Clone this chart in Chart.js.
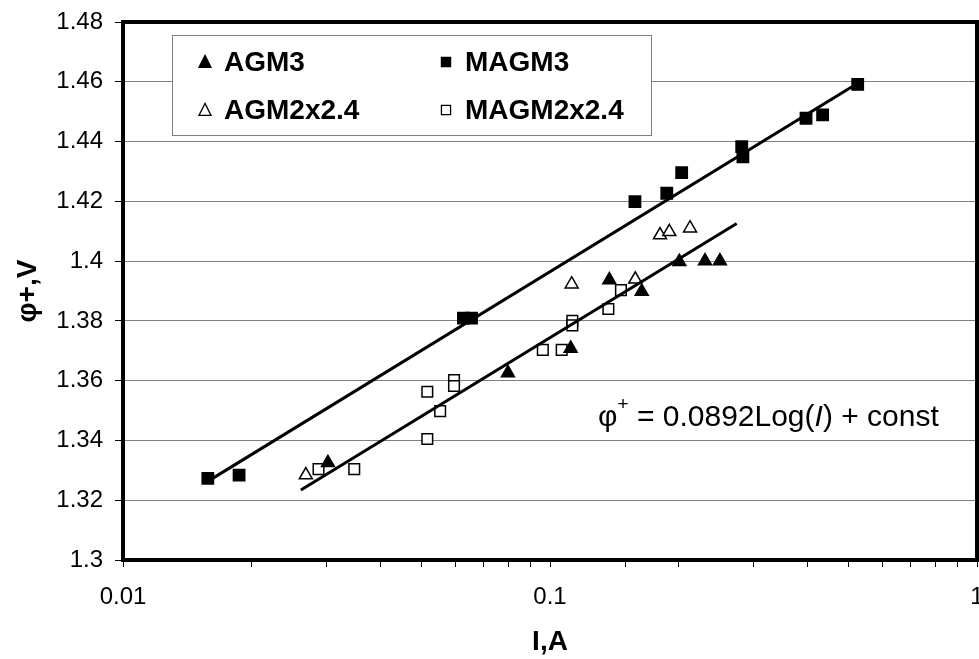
<!DOCTYPE html>
<html>
<head>
<meta charset="utf-8">
<script src="https://cdn.jsdelivr.net/npm/chart.js@4.4.1/dist/chart.umd.min.js"></script>
<style>
  html, body { margin: 0; background: #fff; }
  canvas { display: block; }
</style>
</head>
<body>
<canvas id="chart" width="979" height="659"></canvas>
<script>
// Positive electrode potential vs. current, per cell type
const agm3Current = [0.0302, 0.0797, 0.1118, 0.1377, 0.164, 0.2008, 0.2307, 0.25];
const agm3Phi = [1.3325, 1.3626, 1.3708, 1.3937, 1.3898, 1.3998, 1.4000, 1.4000];

const magm3Current = [0.0158, 0.0187, 0.0627, 0.0655, 0.1581, 0.1877, 0.2034, 0.2812, 0.283, 0.3977, 0.435, 0.5255];
const magm3Phi = [1.3273, 1.3284, 1.3809, 1.3809, 1.4199, 1.4227, 1.4296, 1.4383, 1.4349, 1.4478, 1.4489, 1.4591];

const agm2Current = [0.0268, 0.1124, 0.1584, 0.181, 0.1903, 0.2128];
const agm2Phi = [1.3284, 1.3923, 1.3939, 1.4087, 1.4098, 1.4110];

const magm2Current = [0.0287, 0.0348, 0.0516, 0.0516, 0.0553, 0.0596, 0.0596, 0.0962, 0.1065, 0.1128, 0.1128, 0.137, 0.1466];
const magm2Phi = [1.3304, 1.3304, 1.3405, 1.3563, 1.3498, 1.3602, 1.3582, 1.3703, 1.3703, 1.3800, 1.3785, 1.3840, 1.3903];

// log fit lines, start and end points
const upperFitCurrent = [0.016, 0.5255];
const upperFitPhi = [1.3268, 1.4595];
const lowerFitCurrent = [0.0261, 0.2737];
const lowerFitPhi = [1.3234, 1.4126];

const xTickLabels = ['0.01', '0.1', '1'];
const yMin = 1.3, yMax = 1.48, yStep = 0.02;
const fitNote = ['\u03c6', '+', ' = 0.0892Log(', 'I', ') + const'];

const FONT = 'Arial, "Liberation Sans", Helvetica, sans-serif';

function toPoints(xs, ys) {
    return xs.map((x, i) => ({ x: x, y: ys[i] }));
}

function markerSet(label, xs, ys, style, filled, radius) {
    return {
        label: label,
        data: toPoints(xs, ys),
        showLine: false,
        pointStyle: style,
        pointRadius: radius,
        pointBorderWidth: 1.5,
        pointBorderColor: '#000',
        pointBackgroundColor: filled ? '#000' : '#fff',
        filled: filled,
        order: 1
    };
}

function fitLine(xs, ys) {
    return {
        data: toPoints(xs, ys),
        showLine: true,
        borderColor: '#000',
        borderWidth: 3,
        pointRadius: 0,
        order: 0
    };
}

function drawMarker(ctx, style, filled, x, y, size) {
    ctx.beginPath();
    if (style === 'triangle') {
        ctx.moveTo(x, y - size * 0.55);
        ctx.lineTo(x + size / 2, y + size * 0.45);
        ctx.lineTo(x - size / 2, y + size * 0.45);
        ctx.closePath();
    } else {
        const h = size * 0.38;
        ctx.rect(x - h, y - h, h * 2, h * 2);
    }
    ctx.fillStyle = filled ? '#000' : '#fff';
    ctx.fill();
    ctx.lineWidth = 1.3;
    ctx.strokeStyle = '#000';
    ctx.stroke();
}

// thick plot frame, then the boxed two-column legend
const overlayPlugin = {
    id: 'plotOverlay',
    afterDatasetsDraw(chart) {
        const a = chart.chartArea;
        const ctx = chart.ctx;
        ctx.save();
        ctx.strokeStyle = '#000';
        ctx.lineWidth = 4;
        ctx.strokeRect(a.left, a.top, a.right - a.left, a.bottom - a.top);

        const left = a.left + 49, top = a.top + 13, w = 479, h = 100;
        ctx.fillStyle = '#fff';
        ctx.fillRect(left, top, w, h);
        ctx.strokeStyle = '#808080';
        ctx.lineWidth = 1;
        ctx.strokeRect(left + 0.5, top + 0.5, w, h);

        const entries = chart.data.datasets.filter(d => d.label);
        entries.forEach((d, i) => {
            const col = i % 2, row = Math.floor(i / 2);
            const mx = left + 33 + col * 241;
            const my = top + 27 + row * 48;
            drawMarker(ctx, d.pointStyle, d.filled, mx, my, 12);
            ctx.fillStyle = '#000';
            ctx.font = 'bold 28px ' + FONT;
            ctx.textBaseline = 'middle';
            ctx.textAlign = 'left';
            ctx.fillText(d.label, mx + 19, my + 1);
        });
        ctx.restore();
    }
};

// fit equation written over the plot
const notePlugin = {
    id: 'fitNote',
    afterDraw(chart) {
        const a = chart.chartArea;
        const ctx = chart.ctx;
        let x = a.left + 475;
        const base = a.top + 404;
        ctx.save();
        ctx.fillStyle = '#000';
        ctx.textBaseline = 'alphabetic';
        ctx.textAlign = 'left';
        fitNote.forEach((part, i) => {
            let y = base;
            if (i === 1) {
                ctx.font = '19px ' + FONT;
                y = base - 16;
            } else if (i === 3) {
                ctx.font = 'italic 30px ' + FONT;
            } else {
                ctx.font = '30px ' + FONT;
            }
            ctx.fillText(part, x, y);
            x += ctx.measureText(part).width;
        });
        ctx.restore();
    }
};

function isDecade(v) {
    const e = Math.log10(v);
    return Math.abs(e - Math.round(e)) < 1e-6;
}

function noScalePadding(s) {
    s.paddingLeft = 0;
    s.paddingRight = 0;
    s.paddingTop = 0;
    s.paddingBottom = 0;
}

new Chart(document.getElementById('chart'), {
    type: 'scatter',
    data: {
        datasets: [
            fitLine(upperFitCurrent, upperFitPhi),
            fitLine(lowerFitCurrent, lowerFitPhi),
            markerSet('AGM3', agm3Current, agm3Phi, 'triangle', true, 7.5),
            markerSet('MAGM3', magm3Current, magm3Phi, 'rect', true, 8),
            markerSet('AGM2x2.4', agm2Current, agm2Phi, 'triangle', false, 7.5),
            markerSet('MAGM2x2.4', magm2Current, magm2Phi, 'rect', false, 7.5)
        ]
    },
    options: {
        responsive: false,
        animation: false,
        layout: {
            autoPadding: false,
            padding: { top: 22, right: 2, left: 0, bottom: 0 }
        },
        plugins: {
            legend: { display: false },
            tooltip: { enabled: false }
        },
        scales: {
            x: {
                type: 'logarithmic',
                min: 0.01,
                max: 1,
                afterFit(s) {
                    s.height = 99;
                    noScalePadding(s);
                },
                border: { display: false },
                grid: { drawOnChartArea: false, tickLength: 7, tickColor: '#000' },
                ticks: {
                    autoSkip: false,
                    maxRotation: 0,
                    padding: 16,
                    color: '#000',
                    font: { family: FONT, size: 24 },
                    callback(v) {
                        if (!isDecade(v)) return '';
                        return xTickLabels[Math.round(Math.log10(v)) + 2];
                    }
                },
                title: {
                    display: true,
                    text: 'I,A',
                    color: '#000',
                    font: { family: FONT, size: 28, weight: 'bold' },
                    padding: { top: 1, bottom: 0 }
                }
            },
            y: {
                min: yMin,
                max: yMax,
                afterFit(s) {
                    s.width = 123;
                    noScalePadding(s);
                },
                border: { display: false },
                grid: { color: '#808080', lineWidth: 1, tickLength: 8, tickColor: '#000' },
                ticks: {
                    stepSize: yStep,
                    padding: 12,
                    color: '#000',
                    font: { family: FONT, size: 24 },
                    callback: v => String(+v.toFixed(2))
                },
                title: {
                    display: true,
                    text: '\u03c6+,V',
                    color: '#000',
                    font: { family: FONT, size: 28, weight: 'bold' },
                    padding: { top: 11, bottom: 0 }
                }
            }
        }
    },
    plugins: [overlayPlugin, notePlugin]
});
</script>
</body>
</html>
